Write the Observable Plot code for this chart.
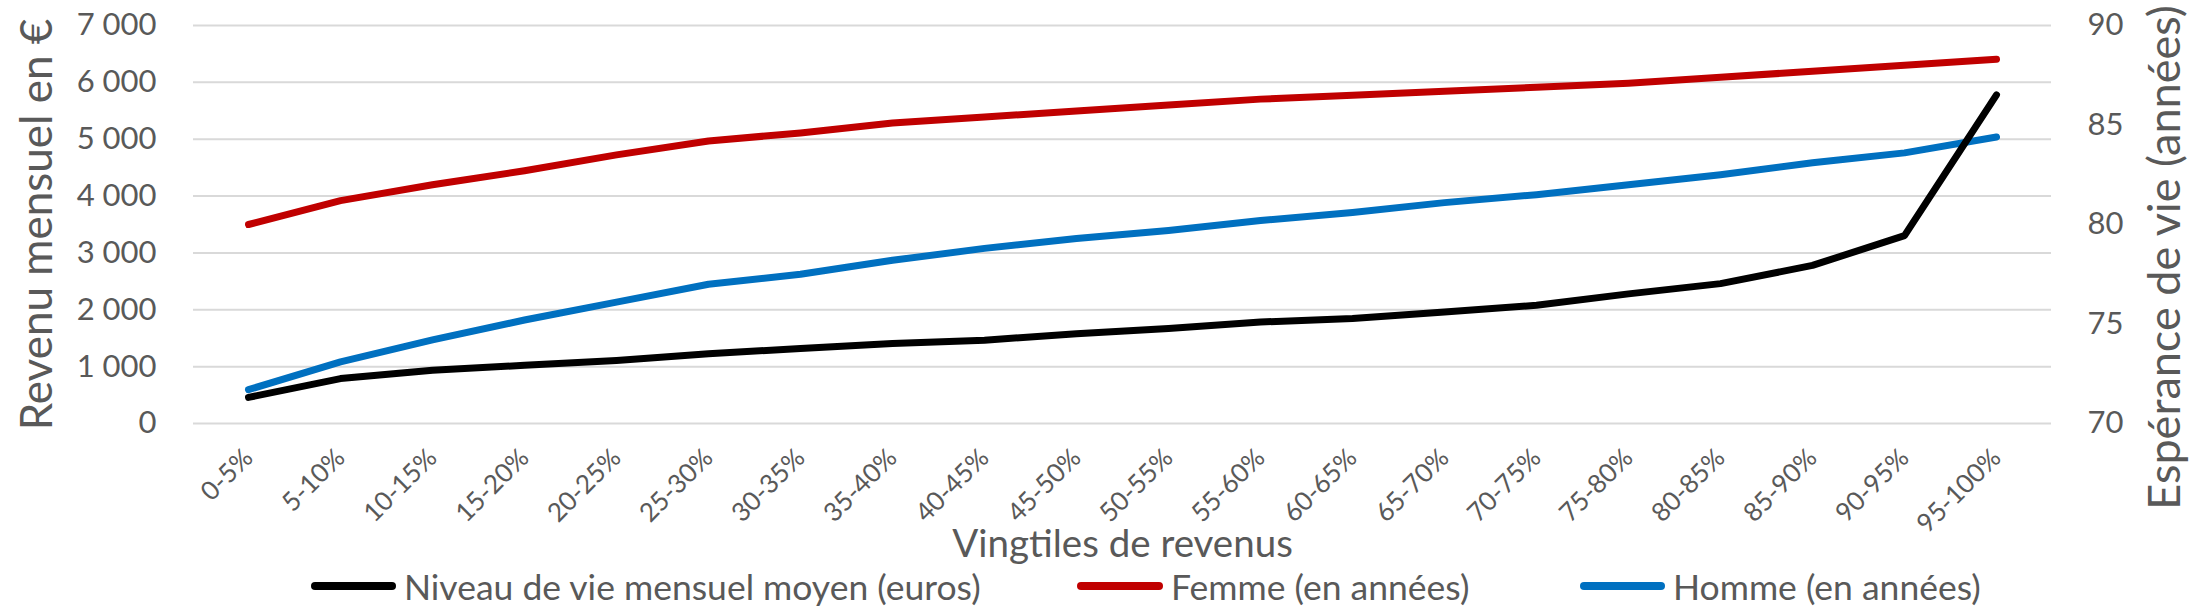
<!DOCTYPE html>
<html>
<head>
<meta charset="utf-8">
<script src="https://cdn.jsdelivr.net/npm/d3@7"></script>
<script src="https://cdn.jsdelivr.net/npm/@observablehq/plot@0.6"></script>
<style>
  body { margin: 0; background: #ffffff; font-family: Lato, sans-serif; }
  #chart { width: 2200px; }
  .legend { position: relative; width: 2200px; height: 55px; color: #595959; font-family: Lato, sans-serif; font-size: 35.5px; }
  .item { position: absolute; top: 5px; height: 50px; display: flex; align-items: center; white-space: nowrap; }
  .sw { display: inline-block; height: 8px; border-radius: 4px; margin-right: 8px; }
</style>
</head>
<body>
<div id="chart"></div>
<div class="legend" id="legend"></div>
<script>
// ---- data ----
const vingtiles = ["0-5%","5-10%","10-15%","15-20%","20-25%","25-30%","30-35%","35-40%","40-45%","45-50%",
                   "50-55%","55-60%","60-65%","65-70%","70-75%","75-80%","80-85%","85-90%","90-95%","95-100%"];
const revenu = [460, 790, 935, 1025, 1110, 1225, 1320, 1405, 1465, 1580,
                1670, 1785, 1845, 1960, 2080, 2280, 2460, 2780, 3305, 5780];
const femme  = [80.0, 81.2, 82.0, 82.7, 83.5, 84.2, 84.6, 85.1, 85.4, 85.7,
                86.0, 86.3, 86.5, 86.7, 86.9, 87.1, 87.4, 87.7, 88.0, 88.3];
const homme  = [71.7, 73.1, 74.2, 75.2, 76.1, 77.0, 77.5, 78.2, 78.8, 79.3,
                79.7, 80.2, 80.6, 81.1, 81.5, 82.0, 82.5, 83.1, 83.6, 84.4];
const series = ["Niveau de vie mensuel moyen (euros)", "Femme (en années)", "Homme (en années)"];
const colors = ["#000000", "#c00000", "#0070c0"];
const yTicks = [0, 1000, 2000, 3000, 4000, 5000, 6000, 7000];
const yTickLabels = ["0", "1 000", "2 000", "3 000", "4 000", "5 000", "6 000", "7 000"];
const rightTicks = [70, 75, 80, 85, 90];
const rightTickLabels = ["70", "75", "80", "85", "90"];
const leftDomain = [0, 7000];
const rightDomain = [70, 90];

// secondary axis mapped onto the primary scale
const toLeft = d3.scaleLinear(rightDomain, leftDomain);
const rightTicksOnLeft = rightTicks.map(toLeft);

const rows = [];
vingtiles.forEach((v, i) => rows.push({v, s: series[1], y: toLeft(femme[i])}));
vingtiles.forEach((v, i) => rows.push({v, s: series[2], y: toLeft(homme[i])}));
vingtiles.forEach((v, i) => rows.push({v, s: series[0], y: revenu[i]}));

const textColor = "#595959";

const chart = Plot.plot({
  width: 2200,
  height: 556,
  marginTop: 25,
  marginBottom: 133,
  marginLeft: 193,
  marginRight: 149,
  style: {fontFamily: "Lato, sans-serif", color: textColor, background: "#ffffff", overflow: "visible"},
  x: {type: "point", domain: vingtiles, padding: 0.5},
  y: {domain: leftDomain},
  color: {domain: series, range: colors},
  marks: [
    Plot.ruleY(yTicks, {stroke: "#d9d9d9", strokeWidth: 2}),
    Plot.axisY(yTicks, {anchor: "left", tickSize: 0, tickPadding: 37, fontSize: 31, label: null,
      tickFormat: d => yTickLabels[yTicks.indexOf(d)]}),
    Plot.axisY(rightTicksOnLeft, {anchor: "right", tickSize: 0, tickPadding: 36, fontSize: 31, label: null,
      tickFormat: d => rightTickLabels[rightTicksOnLeft.indexOf(d)]}),
    Plot.axisX({anchor: "bottom", tickRotate: -45, tickSize: 0, tickPadding: 30, fontSize: 26, label: null}),
    Plot.line(rows, {x: "v", y: "y", z: "s", stroke: "s", strokeWidth: 7,
      strokeLinecap: "round", strokeLinejoin: "round"}),
    Plot.text(["Revenu mensuel en €"], {text: d => d, frameAnchor: "left", dx: -156, rotate: -90,
      textAnchor: "middle", lineAnchor: "middle", fontSize: 44, fill: textColor}),
    Plot.text(["Espérance de vie (années)"], {text: d => d, frameAnchor: "right", dx: 114, dy: 33, rotate: -90,
      textAnchor: "middle", lineAnchor: "middle", fontSize: 45, fill: textColor}),
    Plot.text(["Vingtiles de revenus"], {text: d => d, frameAnchor: "bottom", dy: 121,
      textAnchor: "middle", lineAnchor: "middle", fontSize: 38.5, fill: textColor})
  ]
});
document.getElementById("chart").appendChild(chart);

// legend
const legendPos = [{sw: 311, w: 85}, {sw: 1077, w: 86}, {sw: 1580, w: 85}];
const legend = document.getElementById("legend");
series.forEach((s, i) => {
  const item = document.createElement("div");
  item.className = "item";
  item.style.left = legendPos[i].sw + "px";
  const sw = document.createElement("span");
  sw.className = "sw";
  sw.style.width = legendPos[i].w + "px";
  sw.style.background = colors[i];
  const t = document.createElement("span");
  t.textContent = s;
  item.appendChild(sw);
  item.appendChild(t);
  legend.appendChild(item);
});
</script>
</body>
</html>
